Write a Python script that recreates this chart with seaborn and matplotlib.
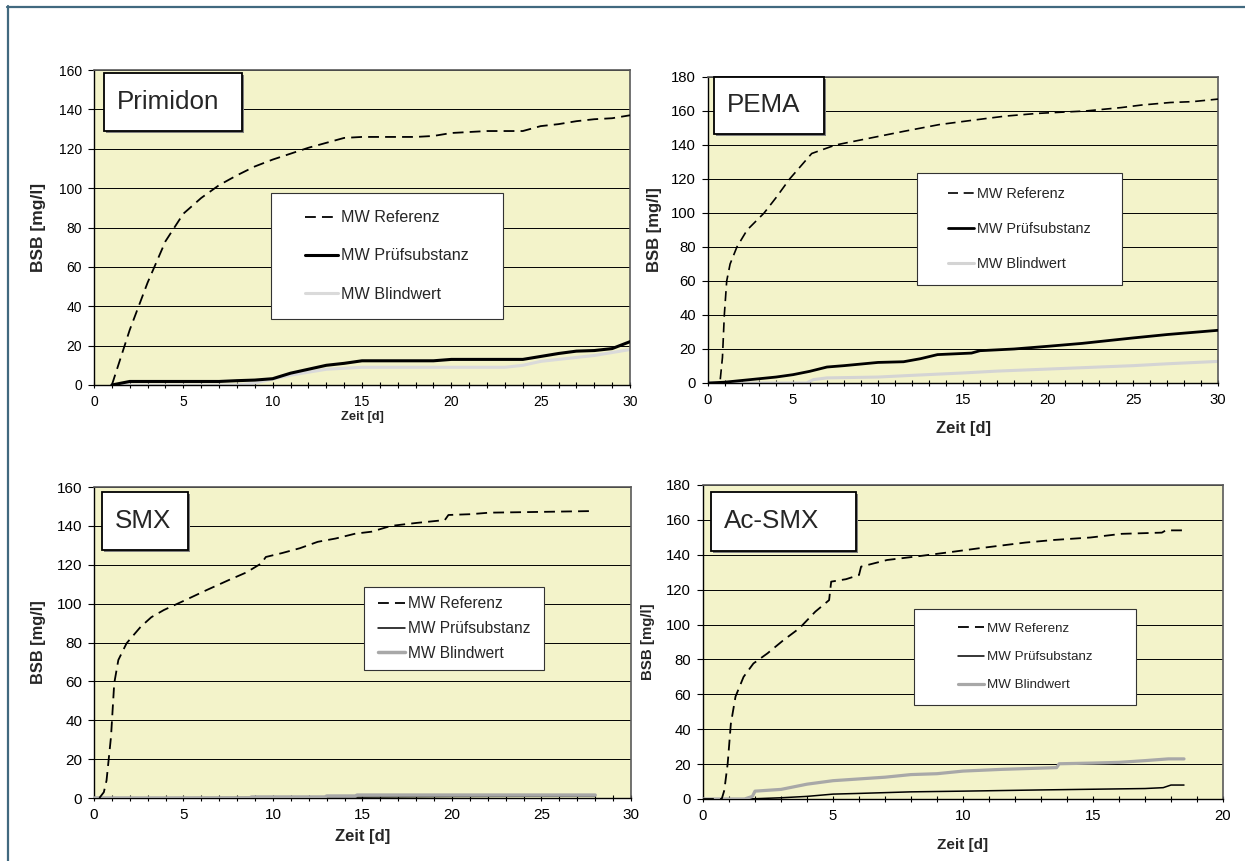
import matplotlib
matplotlib.use("Agg")
import pandas as pd
import matplotlib.pyplot as plt
from matplotlib.patches import Rectangle
from matplotlib.lines import Line2D
from matplotlib.ticker import MultipleLocator
import seaborn as sns

# %% data
labels = ["MW Referenz", "MW Prüfsubstanz", "MW Blindwert"]
titles = ["Primidon", "PEMA", "SMX", "Ac-SMX"]

# Primidon
prim_tage = [1, 2, 3, 4, 5, 6, 7, 8, 9, 10, 11, 12, 13, 14, 15,
             16, 17, 18, 19, 20, 21, 22, 23, 24, 25, 26, 27, 28, 29, 30]
prim_referenz = [0, 28, 52, 73, 87, 95, 101.5, 106.5, 111, 114.5, 117.5, 120.5, 123, 125.5, 126,
                 126, 126, 126, 126.5, 128, 128.5, 129, 129, 129, 131.5, 132.5, 134, 135, 135.5, 137]
prim_pruef = [0, 1.8, 1.8, 1.8, 1.8, 1.8, 1.8, 2.2, 2.5, 3.2, 6, 8, 10, 11, 12.3,
              12.3, 12.3, 12.3, 12.3, 13, 13, 13, 13, 13, 14.5, 16, 17.2, 17.5, 18.5, 22]
prim_blind = [0, 0, 0, 0, 0, 0, 0, 0, 1, 3, 5, 6.5, 8, 8.5, 9,
              9, 9, 9, 9, 9, 9, 9, 9, 10, 12, 13, 14, 15, 16.5, 18]

# PEMA
pema_ref_tage = [0, 0.5, 0.7, 0.85, 0.96, 1.1, 1.3, 1.7, 2.3, 3.3, 4, 4.8, 6.1, 7.5, 8.5,
                 10, 11.5, 13.6, 15.9, 17.5, 19.4, 22.2, 24.3, 25.5, 27.2, 28.5, 30]
pema_referenz = [0, 0, 0, 15, 40, 60, 70, 80, 90, 100, 109, 120, 135, 140, 142,
                 145, 148, 152, 155, 157, 158.6, 160, 162, 163.5, 165, 165.5, 167]
pema_pruef_tage = [0, 1, 2, 3, 4, 5, 6, 7, 8, 10, 11.5, 12.5, 13.5, 15.5, 16,
                   18, 20, 22, 25, 27, 30]
pema_pruef = [0, 0.5, 1.5, 2.5, 3.5, 4.9, 6.9, 9.4, 10.2, 12.1, 12.5, 14.3, 16.7, 17.6, 19,
              20, 21.6, 23.3, 26.5, 28.5, 31]
pema_blind_tage = [0, 5.8, 6.2, 7, 10, 12, 15, 17, 20, 22, 25, 27, 30]
pema_blind = [0, 0, 2, 3, 3.5, 4.5, 5.9, 7, 8.2, 9, 10.2, 11.3, 12.7]

# SMX
smx_ref_tage = [0.3, 0.55, 0.7, 0.95, 1.13, 1.36, 1.82, 2.6, 3.2, 3.9, 5.1, 6.3, 7.5, 8.5, 9.35,
                9.6, 10.5, 11.5, 12.5, 13.5, 14.6, 15.5, 16.6, 18, 19.6, 19.8, 21, 22.1, 25, 27.7]
smx_referenz = [0, 3, 9, 31.5, 59, 71, 79.6, 88, 93, 96.7, 101.8, 107, 112, 116, 120.7,
                124, 126, 128.5, 131.8, 133.5, 136, 137, 140, 141.5, 143, 145.6, 146, 146.8, 147.2, 147.6]
smx_pruef_tage = [0, 10, 15, 20, 28]
smx_pruef = [0, 0.3, 0.5, 0.8, 1]
smx_blind_tage = [0, 8.7, 8.8, 12.9, 13, 14.6, 14.7, 28]
smx_blind = [0, 0, 0.5, 0.5, 1, 1, 1.5, 1.5]

# Ac-SMX
ac_ref_tage = [0, 0.72, 0.82, 0.95, 1.07, 1.25, 1.56, 1.94, 2.48, 3.09, 3.71, 4.32, 4.85, 4.93,
               5.5, 6.0, 6.08, 7.08, 8.46, 9.5, 10.6, 12.4, 13.5, 14.9, 16.1, 17.65, 17.8, 18.5]
ac_referenz = [0, 0, 5, 20.4, 43, 58.7, 70, 77.7, 83.5, 91, 97.9, 107.4, 114, 124.6,
               126, 128.4, 133.2, 137, 139.5, 141.5, 143.7, 147, 148.5, 149.9, 152, 152.7, 154, 154]
ac_pruef_tage = [0, 1.7, 3, 4, 5, 6, 8, 10, 13, 15, 17, 17.7, 18, 18.5]
ac_pruef = [0, 0, 0.7, 1.5, 2.8, 3.2, 4.1, 4.5, 5.2, 5.6, 6, 6.5, 8, 8]
ac_blind_tage = [0, 1.6, 1.9, 2.0, 3, 3.5, 4, 5, 6, 7, 8, 9, 10, 11.5, 13.6, 13.7,
                 15, 16, 17, 17.9, 18.5]
ac_blind = [0, 0, 1.5, 4.5, 5.5, 7, 8.5, 10.5, 11.5, 12.5, 14, 14.5, 16, 17, 18, 20.2,
            20.6, 21, 22, 23, 23]

# %% styling
sns.set_style("ticks")
plt.rcParams['font.family'] = ['Liberation Sans', 'DejaVu Sans']

W, H = 1245, 861
fig = plt.figure(figsize=(W / 100, H / 100), dpi=100)
fig.patch.set_facecolor('white')


def fx(px):
    return px / W


def fy(py):
    return 1 - py / H


def fig_rect(ax, x0, y0, x1, y1, **kw):
    r = Rectangle((fx(x0), fy(y1)), fx(x1) - fx(x0), (y1 - y0) / H,
                  transform=fig.transFigure, clip_on=False, **kw)
    ax.add_patch(r)


dash = (0, (6, 3.4))
panels = [
    dict(title=titles[0], xmax=30, ymax=160, ax=(94, 70, 630, 385),
         tbox=(104, 73, 242, 131), lbox=(271, 193, 503, 319),
         lfs=11.6, lsp=1.45, hl=2.0, tfs=10, xfs=9.3, xly=417, yfs=12.5, ylx=38,
         series=[(prim_tage, prim_referenz), (prim_tage, prim_pruef), (prim_tage, prim_blind)],
         styles=[dict(color='black', lw=1.3, ls=dash, z=4),
                 dict(color='black', lw=2.2, ls='-', z=3),
                 dict(color='#DADADA', lw=2.2, ls='-', z=2)]),
    dict(title=titles[1], xmax=30, ymax=180, ax=(708, 77, 1218, 383),
         tbox=(714, 77, 824, 134), lbox=(917, 173, 1122, 285),
         lfs=10.4, lsp=1.45, hl=1.8, tfs=10.7, xfs=11.9, xly=428, yfs=12, ylx=654,
         series=[(pema_ref_tage, pema_referenz), (pema_pruef_tage, pema_pruef),
                 (pema_blind_tage, pema_blind)],
         styles=[dict(color='black', lw=1.2, ls=dash, z=4),
                 dict(color='black', lw=2.0, ls='-', z=3),
                 dict(color='#D4D4D4', lw=2.2, ls='-', z=2)]),
    dict(title=titles[2], xmax=30, ymax=160, ax=(94, 487, 631, 798),
         tbox=(102, 492, 188, 550), lbox=(364, 587, 544, 670),
         lfs=11.2, lsp=0.62, hl=1.75, tfs=11, xfs=12, xly=837, yfs=11.8, ylx=38,
         series=[(smx_ref_tage, smx_referenz), (smx_pruef_tage, smx_pruef),
                 (smx_blind_tage, smx_blind)],
         styles=[dict(color='black', lw=1.3, ls=dash, z=4),
                 dict(color='black', lw=1.1, ls='-', z=2),
                 dict(color='#A8A8A8', lw=2.5, ls='-', z=3)]),
    dict(title=titles[3], xmax=20, ymax=180, ax=(703, 485, 1223, 799),
         tbox=(711, 492, 856, 551), lbox=(914, 609, 1136, 705),
         lfs=9.6, lsp=1.2, hl=2.0, tfs=10.7, xfs=11, xly=845, yfs=10.8, ylx=648,
         series=[(ac_ref_tage, ac_referenz), (ac_pruef_tage, ac_pruef),
                 (ac_blind_tage, ac_blind)],
         styles=[dict(color='black', lw=1.3, ls=dash, z=4),
                 dict(color='black', lw=1.1, ls='-', z=2),
                 dict(color='#A8A8A8', lw=2.3, ls='-', z=3)]),
]

for p in panels:
    x0, y0, x1, y1 = p['ax']
    ax = fig.add_axes([fx(x0), fy(y1), fx(x1) - fx(x0), (y1 - y0) / H])
    ax.set_facecolor('#F3F3CA')

    for (xs, ys), lab, st in zip(p['series'], labels, p['styles']):
        df = pd.DataFrame({'Zeit': xs, 'BSB': ys})
        sns.lineplot(data=df, x='Zeit', y='BSB', ax=ax, estimator=None, sort=False,
                     color=st['color'], linewidth=st['lw'], linestyle=st['ls'],
                     label=lab, zorder=st['z'], legend=False)

    ax.set_xlim(0, p['xmax'])
    ax.set_ylim(0, p['ymax'])
    ax.xaxis.set_major_locator(MultipleLocator(5))
    ax.xaxis.set_minor_locator(MultipleLocator(1))
    ax.yaxis.set_major_locator(MultipleLocator(20))
    ax.tick_params(axis='x', which='both', direction='inout', length=5, width=0.8,
                   labelsize=p['tfs'], pad=5, colors='black')
    ax.tick_params(axis='y', direction='out', length=4, width=0.8,
                   labelsize=p['tfs'], pad=4.5, colors='black')
    ax.yaxis.grid(True, color='black', lw=0.7)
    ax.xaxis.grid(False)
    ax.set_axisbelow(True)
    for s in ['left', 'bottom']:
        ax.spines[s].set_color('black')
        ax.spines[s].set_linewidth(1.0)
    for s in ['top', 'right']:
        ax.spines[s].set_visible(True)
        ax.spines[s].set_color('#5A5A5A')
        ax.spines[s].set_linewidth(1.2)

    ax.set_xlabel('Zeit [d]', fontsize=p['xfs'], fontweight='bold')
    ax.set_ylabel('BSB [mg/l]', fontsize=p['yfs'], fontweight='bold')
    ax.xaxis.set_label_coords(0.5, (y1 - p['xly']) / (y1 - y0))
    ax.xaxis.label.set_verticalalignment('center')
    ax.yaxis.set_label_coords((p['ylx'] - x0) / (x1 - x0), 0.5)
    ax.yaxis.label.set_verticalalignment('center')

    # name box with shadow
    bx0, by0, bx1, by1 = p['tbox']
    fig_rect(ax, bx0 + 2, by0 + 2, bx1 + 2, by1 + 2, facecolor='#7F7F7F',
             edgecolor='none', zorder=5)
    fig_rect(ax, bx0, by0, bx1, by1, facecolor='white', edgecolor='black',
             lw=1.3, zorder=6)
    ax.text(fx(bx0 + 13), fy((by0 + by1) / 2), p['title'], transform=fig.transFigure,
            fontsize=18.7, ha='left', va='center', zorder=7)

    # legend box
    lx0, ly0, lx1, ly1 = p['lbox']
    fig_rect(ax, lx0, ly0, lx1, ly1, facecolor='white', edgecolor='#333333',
             lw=0.8, zorder=5)
    handles, labs = ax.get_legend_handles_labels()
    leg = ax.legend(handles, labs, loc='center', frameon=False,
                    bbox_to_anchor=(fx((lx0 + lx1) / 2), fy((ly0 + ly1) / 2)),
                    bbox_transform=fig.transFigure, fontsize=p['lfs'],
                    labelspacing=p['lsp'], handlelength=p['hl'], handletextpad=0.2,
                    borderpad=0)
    leg.set_zorder(8)

# outer frame (top and left)
fig.add_artist(Line2D([fx(7), 1], [fy(6.5), fy(6.5)], transform=fig.transFigure,
                      color='#41697F', lw=1.6))
fig.add_artist(Line2D([fx(7.5), fx(7.5)], [0, fy(6)], transform=fig.transFigure,
                      color='#41697F', lw=1.6))

fig.savefig('out.png', dpi=100)
